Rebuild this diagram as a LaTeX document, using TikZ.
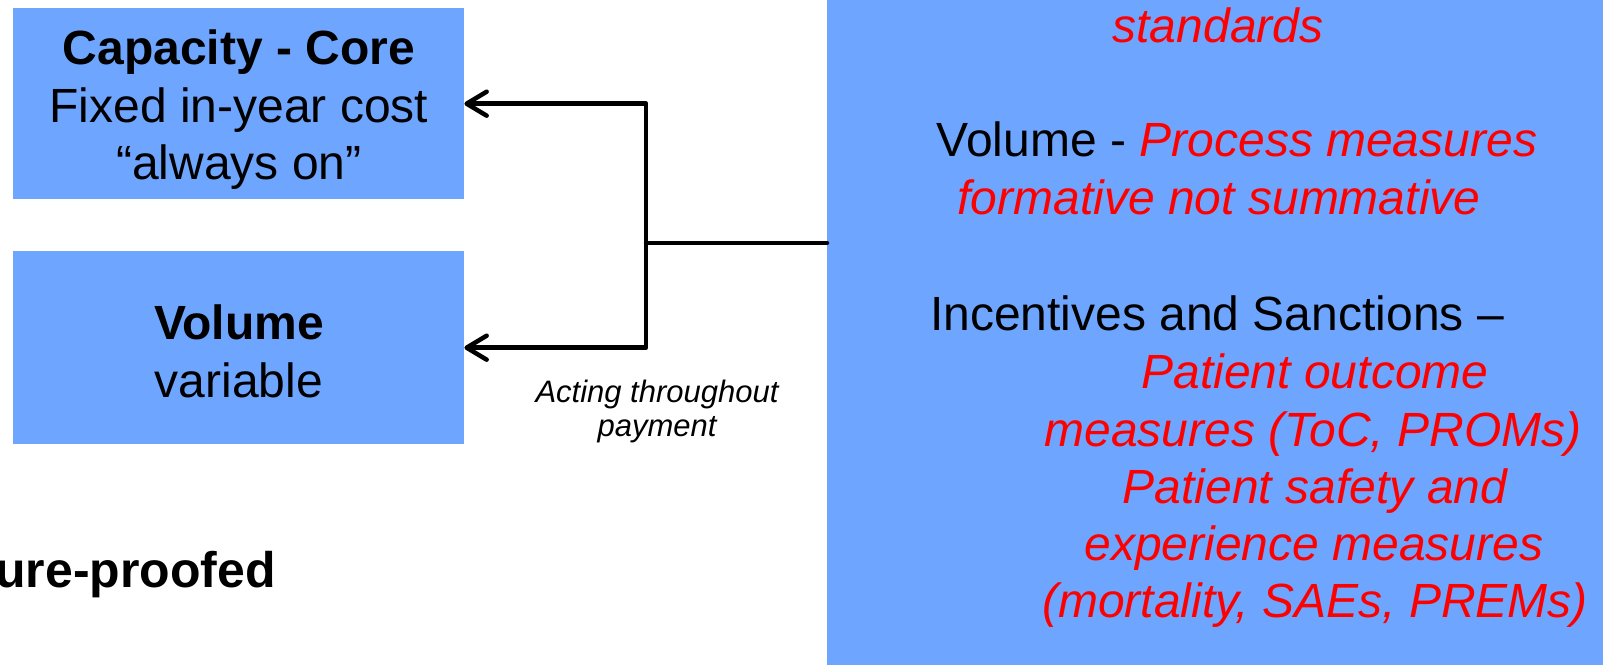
\documentclass[tikz,border=0pt]{standalone}
\usepackage{fontspec}
\setmainfont{Liberation Sans}
\usetikzlibrary{arrows.meta}
\definecolor{boxblue}{RGB}{110,165,255}
\definecolor{txtred}{RGB}{255,0,0}
\tikzset{
  bluebox/.style={fill=boxblue, draw=none, inner sep=0pt, anchor=north west},
  big/.style={font=\fontsize{48}{57}\selectfont, inner sep=0pt, anchor=base},
  redit/.style={big, text=txtred, font=\fontsize{48}{57}\selectfont\itshape},
  small/.style={font=\fontsize{31}{35}\selectfont\itshape, inner sep=0pt, anchor=base},
  conn/.style={line width=4.5pt, line join=round, line cap=round},
  arr/.style={conn, -{Straight Barb[length=20pt,width=24pt,round]}}
}
\begin{document}
\begin{tikzpicture}[x=1pt,y=-1pt]
\clip (0,0) rectangle (1603,664);
\fill[white] (0,0) rectangle (1603,664);
% boxes
\node[bluebox, minimum width=451pt, minimum height=191pt] (cap) at (13,8) {};
\node[bluebox, minimum width=451pt, minimum height=193pt] (vol) at (13,251) {};
\node[bluebox, minimum width=800pt, minimum height=720pt] (bigbox) at (827,-28) {};
% left box texts
\node[big, font=\fontsize{48}{57}\selectfont\bfseries] (t1) at (239,64) {Capacity - Core};
\node[big] (t2) at (239,122) {Fixed in-year cost};
\node[big] (t3) at (239,179) {“always on”};
\node[big, font=\fontsize{48}{57}\selectfont\bfseries] (t4) at (239,339) {Volume};
\node[big] (t5) at (239,397) {variable};
% label
\node[small] (l1) at (657,402) {Acting throughout};
\node[small] (l2) at (657,436) {payment};
% cut text
\node[big, font=\fontsize{50}{57}\selectfont\bfseries, anchor=base east] (fp) at (276,587) {ure-proofed};
% right texts
\node[redit] (r1) at (1218,42) {standards};
\node[big] (r2) at (1237,156) {Volume - \textcolor{txtred}{\itshape Process measures}};
\node[redit] (r3) at (1219,214) {formative not summative};
\node[big] (r4) at (1217,330) {Incentives and Sanctions –};
\node[redit] (r5) at (1315,388) {Patient outcome};
\node[redit] (r6) at (1313,446) {measures (ToC, PROMs)};
\node[redit] (r7) at (1315,503) {Patient safety and};
\node[redit] (r8) at (1314,560) {experience measures};
\node[redit] (r9) at (1315,617) {(mortality, SAEs, PREMs)};
% connectors
\coordinate (j) at (646,243);
\draw[conn] (bigbox.west |- j) -- (j);
\draw[arr] (j) |- (cap.east);
\draw[arr] (j) |- (vol.east);
\end{tikzpicture}
\end{document}
